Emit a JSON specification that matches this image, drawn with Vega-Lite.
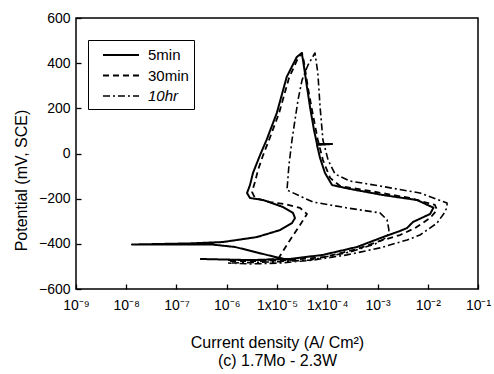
{
  "$schema": "https://vega.github.io/schema/vega-lite/v6.json",
  "width": 402,
  "height": 271,
  "autosize": "none",
  "padding": {"left": 76, "top": 18, "right": 16, "bottom": 85},
  "background": "white",
  "config": {
    "font": "Liberation Sans",
    "view": {"stroke": "black", "strokeWidth": 1.5},
    "axis": {"grid": false, "domain": false, "tickColor": "black", "tickWidth": 1.3, "labelColor": "black", "titleColor": "black", "labelFont": "Liberation Sans", "titleFont": "Liberation Sans", "titleFontWeight": "normal"}
  },
  "datasets": {
    "curves": [
      {"s":"5min","i":1,"x":1.82e-5,"y":-472},
      {"s":"5min","i":2,"x":9.1e-6,"y":-458},
      {"s":"5min","i":3,"x":3.65e-6,"y":-436},
      {"s":"5min","i":4,"x":1.46e-6,"y":-414},
      {"s":"5min","i":5,"x":5.1e-7,"y":-403},
      {"s":"5min","i":6,"x":1.3e-8,"y":-403},
      {"s":"5min","i":7,"x":1.86e-7,"y":-398},
      {"s":"5min","i":8,"x":8.4e-7,"y":-392},
      {"s":"5min","i":9,"x":4.0e-6,"y":-370},
      {"s":"5min","i":10,"x":1.15e-5,"y":-339},
      {"s":"5min","i":11,"x":1.99e-5,"y":-308},
      {"s":"5min","i":12,"x":2.28e-5,"y":-286},
      {"s":"5min","i":13,"x":2.08e-5,"y":-263},
      {"s":"5min","i":14,"x":1.32e-5,"y":-237},
      {"s":"5min","i":15,"x":5.3e-6,"y":-206},
      {"s":"5min","i":16,"x":2.9e-6,"y":-197},
      {"s":"5min","i":17,"x":2.53e-6,"y":-175},
      {"s":"5min","i":18,"x":2.9e-6,"y":-140},
      {"s":"5min","i":19,"x":3.33e-6,"y":-86},
      {"s":"5min","i":20,"x":4.6e-6,"y":-7},
      {"s":"5min","i":21,"x":6.2e-6,"y":60},
      {"s":"5min","i":22,"x":9.9e-6,"y":179},
      {"s":"5min","i":23,"x":1.56e-5,"y":339},
      {"s":"5min","i":24,"x":2.47e-5,"y":427},
      {"s":"5min","i":25,"x":3.1e-5,"y":445},
      {"s":"5min","i":26,"x":3.29e-5,"y":414},
      {"s":"5min","i":27,"x":3.9e-5,"y":303},
      {"s":"5min","i":28,"x":4.54e-5,"y":206},
      {"s":"5min","i":29,"x":5.45e-5,"y":104},
      {"s":"5min","i":30,"x":6.25e-5,"y":42},
      {"s":"5min","i":31,"x":1.25e-4,"y":42},
      {"s":"5min","i":32,"x":6.25e-5,"y":38},
      {"s":"5min","i":33,"x":7.2e-5,"y":-20},
      {"s":"5min","i":34,"x":9.0e-5,"y":-86},
      {"s":"5min","i":35,"x":1.25e-4,"y":-140},
      {"s":"5min","i":36,"x":2.84e-4,"y":-157},
      {"s":"5min","i":37,"x":1.29e-3,"y":-184},
      {"s":"5min","i":38,"x":6.1e-3,"y":-206},
      {"s":"5min","i":39,"x":1.3e-2,"y":-240},
      {"s":"5min","i":40,"x":1.11e-2,"y":-268},
      {"s":"5min","i":41,"x":5.1e-3,"y":-303},
      {"s":"5min","i":42,"x":3.87e-3,"y":-330},
      {"s":"5min","i":43,"x":2.8e-3,"y":-343},
      {"s":"5min","i":44,"x":1.29e-3,"y":-370},
      {"s":"5min","i":45,"x":3.9e-4,"y":-414},
      {"s":"5min","i":46,"x":8.2e-5,"y":-449},
      {"s":"5min","i":47,"x":1.82e-5,"y":-467},
      {"s":"5min","i":48,"x":2.9e-6,"y":-472},
      {"s":"5min","i":49,"x":2.94e-7,"y":-467},

      {"s":"30min","i":1,"x":1.06e-6,"y":-472},
      {"s":"30min","i":2,"x":4.6e-6,"y":-472},
      {"s":"30min","i":3,"x":1.05e-5,"y":-467},
      {"s":"30min","i":4,"x":1.82e-5,"y":-383},
      {"s":"30min","i":5,"x":2.87e-5,"y":-317},
      {"s":"30min","i":6,"x":3.95e-5,"y":-268},
      {"s":"30min","i":7,"x":2.87e-5,"y":-241},
      {"s":"30min","i":8,"x":1.44e-5,"y":-224},
      {"s":"30min","i":9,"x":7.3e-6,"y":-215},
      {"s":"30min","i":10,"x":3.65e-6,"y":-197},
      {"s":"30min","i":11,"x":3.18e-6,"y":-170},
      {"s":"30min","i":12,"x":3.65e-6,"y":-126},
      {"s":"30min","i":13,"x":4.19e-6,"y":-73},
      {"s":"30min","i":14,"x":5.3e-6,"y":-7},
      {"s":"30min","i":15,"x":7.3e-6,"y":73},
      {"s":"30min","i":16,"x":1.1e-5,"y":179},
      {"s":"30min","i":17,"x":1.73e-5,"y":334},
      {"s":"30min","i":18,"x":2.62e-5,"y":423},
      {"s":"30min","i":19,"x":3.15e-5,"y":445},
      {"s":"30min","i":20,"x":3.44e-5,"y":405},
      {"s":"30min","i":21,"x":4.14e-5,"y":290},
      {"s":"30min","i":22,"x":4.97e-5,"y":193},
      {"s":"30min","i":23,"x":6.5e-5,"y":60},
      {"s":"30min","i":24,"x":8.2e-5,"y":-29},
      {"s":"30min","i":25,"x":1.14e-4,"y":-108},
      {"s":"30min","i":26,"x":1.8e-4,"y":-144},
      {"s":"30min","i":27,"x":7.1e-4,"y":-166},
      {"s":"30min","i":28,"x":4.4e-3,"y":-197},
      {"s":"30min","i":29,"x":1.39e-2,"y":-228},
      {"s":"30min","i":30,"x":1.53e-2,"y":-250},
      {"s":"30min","i":31,"x":1.11e-2,"y":-286},
      {"s":"30min","i":32,"x":5.6e-3,"y":-330},
      {"s":"30min","i":33,"x":2.8e-3,"y":-361},
      {"s":"30min","i":34,"x":1.12e-3,"y":-387},
      {"s":"30min","i":35,"x":3.9e-4,"y":-423},
      {"s":"30min","i":36,"x":9.0e-5,"y":-458},
      {"s":"30min","i":37,"x":1.82e-5,"y":-472},
      {"s":"30min","i":38,"x":4.6e-6,"y":-476},
      {"s":"30min","i":39,"x":1.16e-6,"y":-476},

      {"s":"10hr","i":1,"x":1.27e-6,"y":-485},
      {"s":"10hr","i":2,"x":7.3e-6,"y":-480},
      {"s":"10hr","i":3,"x":4.54e-5,"y":-472},
      {"s":"10hr","i":4,"x":2.84e-4,"y":-436},
      {"s":"10hr","i":5,"x":8.9e-4,"y":-401},
      {"s":"10hr","i":6,"x":1.55e-3,"y":-370},
      {"s":"10hr","i":7,"x":1.69e-3,"y":-339},
      {"s":"10hr","i":8,"x":1.55e-3,"y":-294},
      {"s":"10hr","i":9,"x":1.12e-3,"y":-263},
      {"s":"10hr","i":10,"x":2.47e-4,"y":-241},
      {"s":"10hr","i":11,"x":5.2e-5,"y":-215},
      {"s":"10hr","i":12,"x":1.58e-5,"y":-162},
      {"s":"10hr","i":13,"x":1.73e-5,"y":-51},
      {"s":"10hr","i":14,"x":1.99e-5,"y":60},
      {"s":"10hr","i":15,"x":2.28e-5,"y":148},
      {"s":"10hr","i":16,"x":2.62e-5,"y":237},
      {"s":"10hr","i":17,"x":3.15e-5,"y":325},
      {"s":"10hr","i":18,"x":4.14e-5,"y":392},
      {"s":"10hr","i":19,"x":5.7e-5,"y":445},
      {"s":"10hr","i":20,"x":6.5e-5,"y":356},
      {"s":"10hr","i":21,"x":7.2e-5,"y":206},
      {"s":"10hr","i":22,"x":8.2e-5,"y":60},
      {"s":"10hr","i":23,"x":1.04e-4,"y":-29},
      {"s":"10hr","i":24,"x":1.43e-4,"y":-91},
      {"s":"10hr","i":25,"x":2.84e-4,"y":-122},
      {"s":"10hr","i":26,"x":1.12e-3,"y":-144},
      {"s":"10hr","i":27,"x":7.0e-3,"y":-175},
      {"s":"10hr","i":28,"x":2.42e-2,"y":-219},
      {"s":"10hr","i":29,"x":2.42e-2,"y":-237},
      {"s":"10hr","i":30,"x":2.2e-2,"y":-259},
      {"s":"10hr","i":31,"x":1.53e-2,"y":-308},
      {"s":"10hr","i":32,"x":7.0e-3,"y":-361},
      {"s":"10hr","i":33,"x":3.87e-3,"y":-383},
      {"s":"10hr","i":34,"x":1.12e-3,"y":-418},
      {"s":"10hr","i":35,"x":2.47e-4,"y":-449},
      {"s":"10hr","i":36,"x":5.2e-5,"y":-472},
      {"s":"10hr","i":37,"x":1.15e-5,"y":-485},
      {"s":"10hr","i":38,"x":2.9e-6,"y":-489},
      {"s":"10hr","i":39,"x":1.06e-6,"y":-485}
    ]
  },
  "data": {"name": "curves"},
  "mark": {"type": "line", "color": "black", "strokeJoin": "round", "clip": true},
  "encoding": {
    "x": {
      "field": "x", "type": "quantitative",
      "scale": {"type": "log", "domain": [1e-9, 1e-1], "nice": false},
      "axis": {
        "values": [1e-9, 1e-8, 1e-7, 1e-6, 1e-5, 1e-4, 1e-3, 1e-2, 1e-1],
        "labelExpr": "['10⁻⁹','10⁻⁸','10⁻⁷','10⁻⁶','1x10⁻⁵','1x10⁻⁴','10⁻³','10⁻²','10⁻¹'][round(log(datum.value)/LN10)+9]",
        "offset": -5, "tickSize": 5, "labelPadding": 9, "labelFontSize": 14, "labelFlush": false,
        "title": ["Current density (A/ Cm²)", "(c) 1.7Mo - 2.3W"],
        "titleFontSize": 16, "titlePadding": 22, "titleLineHeight": 18
      }
    },
    "y": {
      "field": "y", "type": "quantitative",
      "scale": {"domain": [-600, 600], "nice": false},
      "axis": {
        "values": [-600, -400, -200, 0, 200, 400, 600],
        "offset": -5, "tickSize": 5, "labelPadding": 6, "labelFontSize": 14, "labelFlush": false,
        "title": "Potential (mV, SCE)", "titleFontSize": 16, "titleX": -52, "titleY": 162
      }
    },
    "order": {"field": "i", "type": "quantitative"},
    "detail": {"field": "s"},
    "strokeDash": {
      "field": "s", "type": "nominal",
      "scale": {"domain": ["5min", "30min", "10hr"], "range": [[1, 0], [6, 4], [7, 3, 2, 3]]},
      "legend": {
        "title": null, "orient": "none", "legendX": 12, "legendY": 22,
        "symbolType": "M0,0H4", "symbolSize": 324, "symbolStrokeColor": "black", "symbolStrokeWidth": 1.6,
        "labelFontSize": 15, "labelOffset": 35, "rowPadding": 2.5,
        "labelExpr": "datum.label + '\u00a0\u00a0'",
        "strokeColor": "black", "padding": 5, "fillColor": "white",
        "encode": {"labels": {"update": {"fontStyle": {"signal": "datum.label === '10hr' ? 'italic' : 'normal'"}}}}
      }
    },
    "strokeWidth": {
      "field": "s", "type": "nominal",
      "scale": {"domain": ["5min", "30min", "10hr"], "range": [2, 1.6, 1.4]},
      "legend": null
    }
  }
}
